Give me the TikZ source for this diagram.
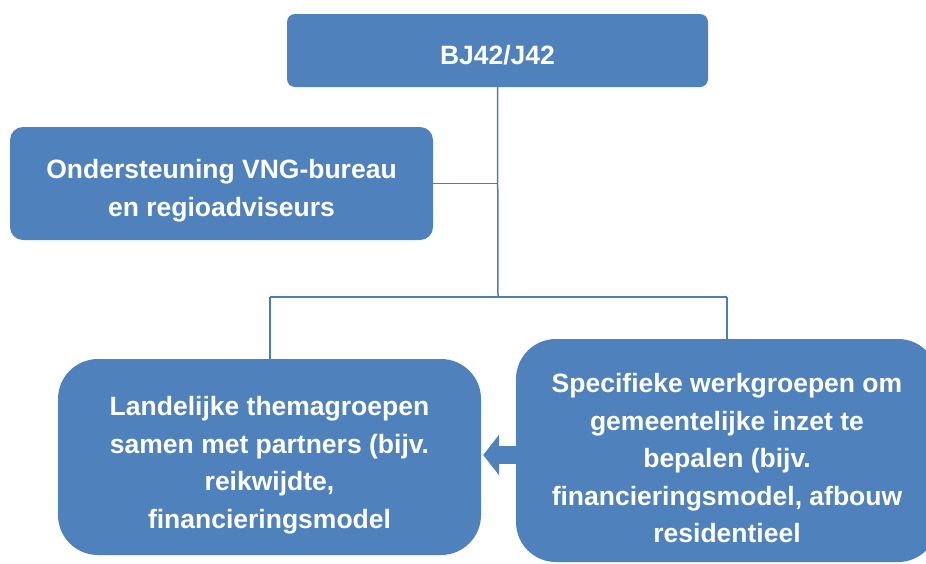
\documentclass[tikz,border=0pt]{standalone}
\usepackage{fontspec}
\setmainfont{Liberation Sans}
\usetikzlibrary{arrows.meta,calc}
\definecolor{boxblue}{HTML}{4F81BD}
\definecolor{lineblue}{HTML}{4A7EBB}
\tikzset{
  orgbox/.style={fill=boxblue, draw=none, inner sep=0pt},
  boxtext/.style={text=white, inner sep=0pt, align=center,
    font=\fontsize{26.5}{37.5}\selectfont\bfseries},
  link/.style={draw=lineblue, line width=1.5pt},
  blockarrow/.style={draw=boxblue, line width=18pt, -{Triangle[length=16pt,width=40pt]}}
}
\begin{document}
\begin{tikzpicture}[x=1pt,y=-1pt]
\useasboundingbox (0,0) rectangle (926,563);
\clip (0,0) rectangle (926,563);
\fill[white] (0,0) rectangle (926,563);
\node[orgbox, rounded corners=8pt, minimum width=421pt, minimum height=73pt] (top) at (497.5,50.5) {};
\node[orgbox, rounded corners=13pt, minimum width=423pt, minimum height=113pt] (sup) at (221.5,183.5) {};
\node[orgbox, rounded corners=40pt, minimum width=423pt, minimum height=196pt] (bl) at (269.5,457) {};
\node[orgbox, rounded corners=40pt, minimum width=422pt, minimum height=223pt] (br) at (727,450.5) {};
\node[boxtext, yshift=-5pt] (topt) at (top) {BJ42/J42};
\node[boxtext, yshift=-7pt] (supt) at (sup) {Ondersteuning VNG-bureau\\en regioadviseurs};
\node[boxtext, yshift=-8pt] (blt) at (bl) {Landelijke themagroepen\\samen met partners (bijv.\\reikwijdte,\\financieringsmodel};
\node[boxtext, yshift=-8pt] (brt) at (br) {Specifieke werkgroepen om\\gemeentelijke inzet te\\bepalen (bijv.\\financieringsmodel, afbouw\\residentieel};
\coordinate (hub) at (498,297);
\coordinate (lj) at (270,297);
\coordinate (rj) at (727,297);
\draw[link] (top.south) -- (hub);
\draw[link] (sup.east) -- (sup.east -| top.south);
\draw[link] (lj) -- (rj);
\draw[link] (lj) -- (lj |- bl.north);
\draw[link] (rj) -- (rj |- br.north);
\draw[blockarrow] ($(br.west)+(0,4.5)$) -- ($(bl.east)+(2,-2)$);
\end{tikzpicture}
\end{document}
